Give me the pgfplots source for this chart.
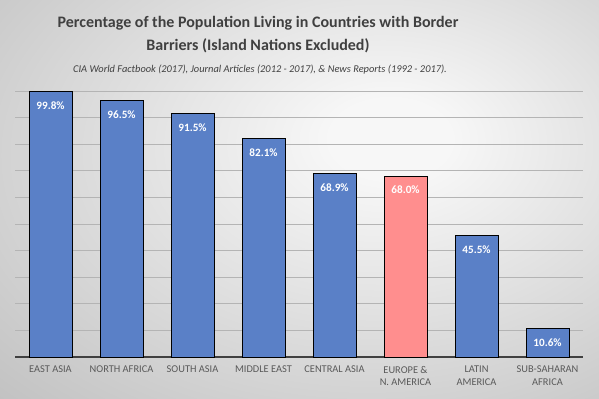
\documentclass[border=0pt]{standalone}
\usepackage{pgfplots}
\pgfplotsset{compat=1.18}
\usepackage{fontspec}
\setmainfont{Carlito}
\definecolor{barblue}{HTML}{5A80C7}
\definecolor{barpink}{HTML}{FF8E8E}
\definecolor{titlegray}{HTML}{404040}
\definecolor{tickgray}{HTML}{595959}
\definecolor{gridgray}{HTML}{B4B4B4}
\definecolor{bgin}{HTML}{F7F7F7}
\definecolor{bgout}{HTML}{C2C2C2}
\pgfdeclareradialshading{bgshade}{\pgfpoint{8bp}{8bp}}{color(0bp)=(bgin); color(5bp)=(bgin); color(42bp)=(bgout); color(100bp)=(bgout)}
\begin{document}
\begin{tikzpicture}
\shade[shading=bgshade] (0,0) rectangle (599bp,399bp);
\node[font=\fontsize{16bp}{19bp}\selectfont\bfseries, text=titlegray, align=center] at (258bp,364bp) {Percentage of the Population Living in Countries with Border\\[4bp]Barriers (Island Nations Excluded)};
\node[font=\fontsize{10.4bp}{12bp}\selectfont\itshape, text=titlegray] at (260bp,329bp) {CIA World Factbook (2017), Journal Articles (2012 - 2017), \& News Reports (1992 - 2017).};
\begin{axis}[
  at={(15bp,42bp)}, anchor=south west,
  scale only axis, width=568bp, height=266bp,
  xmin=-0.5, xmax=7.5, ymin=0, ymax=100,
  axis x line=bottom, axis y line=left,
  x axis line style={draw=titlegray, line width=1.6bp, -},
  y axis line style={draw=none},
  ytick={10,20,...,100}, yticklabels={},
  ymajorgrids, grid style={gridgray, line width=0.8bp},
  major tick length=0pt,
  xtick={0,...,7},
  xticklabels={EAST ASIA, NORTH AFRICA, SOUTH ASIA, MIDDLE EAST, CENTRAL ASIA, {EUROPE \&\\N. AMERICA}, {LATIN\\AMERICA}, {SUB-SAHARAN\\AFRICA}},
  xticklabel style={align=center, font=\fontsize{10.4bp}{12.5bp}\selectfont, text=tickgray, inner sep=0pt, yshift=-9bp},
  ybar, bar width=43bp, bar shift=0pt,
  /pgf/number format/assume math mode=true,
  nodes near coords={\pgfmathprintnumber[fixed,fixed zerofill,precision=1]{\pgfplotspointmeta}\%},
  nodes near coords style={anchor=north, inner sep=0pt, yshift=-9.5bp, font=\fontsize{11.2bp}{12bp}\selectfont\bfseries, text=white},
  clip=false,
]
\addplot[fill=barblue, draw=black, line width=1bp] coordinates {(0,99.8) (1,96.5) (2,91.5) (3,82.1) (4,68.9) (6,45.5) (7,10.6)};
\addplot[fill=barpink, draw=black, line width=1bp] coordinates {(5,68.0)};
\end{axis}
\end{tikzpicture}
\end{document}
